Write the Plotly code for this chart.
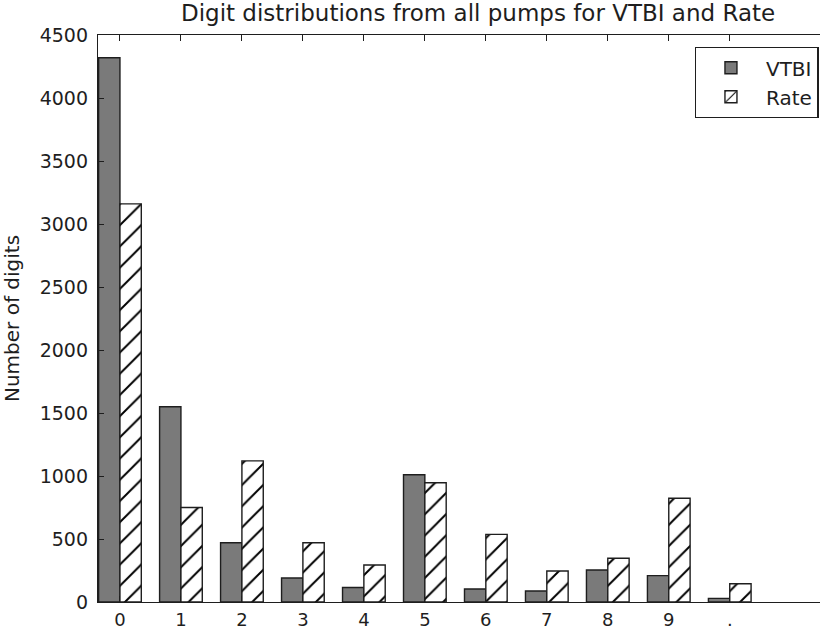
import plotly.graph_objects as go

categories = ["0", "1", "2", "3", "4", "5", "6", "7", "8", "9", "."]
vtbi = [4320, 1550, 470, 190, 115, 1010, 103, 87, 254, 209, 29]
rate = [3160, 750, 1120, 470, 294, 947, 537, 246, 347, 823, 145]
y_ticks = [0, 500, 1000, 1500, 2000, 2500, 3000, 3500, 4000, 4500]

positions = list(range(len(categories)))
font = "DejaVu Sans"
ink = "#1e1e1e"

fig = go.Figure()
fig.add_trace(go.Bar(
    x=positions, y=vtbi, name="VTBI", width=0.35, offset=-0.35,
    marker=dict(color="#7a7a7a", line=dict(color=ink, width=1.4)),
))
fig.add_trace(go.Bar(
    x=positions, y=rate, name="Rate", width=0.35, offset=0,
    marker=dict(color="white", line=dict(color=ink, width=1.4),
                pattern=dict(shape="/", fgcolor="#000000", bgcolor="white",
                             fgopacity=1, size=15, solidity=0.13)),
))

fig.update_layout(
    width=820, height=629,
    barmode="overlay",
    plot_bgcolor="white", paper_bgcolor="white",
    margin=dict(l=98, r=0, t=35, b=27, autoexpand=False),
    title=dict(text="Digit distributions from all pumps for VTBI and Rate",
               x=0.583, xanchor="center", y=0.979, yanchor="middle",
               font=dict(family=font, size=23, color=ink)),
    font=dict(family=font, color=ink),
    showlegend=True,
    legend=dict(x=0.998, xanchor="right", y=0.979, yanchor="top",
                bordercolor=ink, borderwidth=1.4, bgcolor="white",
                font=dict(family=font, size=20, color=ink),
                itemwidth=60),
)
fig.update_xaxes(
    range=[-0.36, 11.48], tickmode="array", tickvals=positions, ticktext=categories,
    ticks="inside", ticklen=6, tickcolor=ink, mirror="ticks", automargin=False,
    showline=True, linecolor=ink, linewidth=1.4, showgrid=False, zeroline=False,
    tickfont=dict(family=font, size=18, color=ink), ticklabelstandoff=1,
)
fig.update_yaxes(
    range=[0, 4500], tickmode="array", tickvals=y_ticks, automargin=False,
    ticks="inside", ticklen=6, tickcolor=ink, mirror=False,
    showline=True, linecolor=ink, linewidth=1.4, showgrid=False, zeroline=False,
    tickfont=dict(family=font, size=19, color=ink), ticklabelstandoff=5,
    title=dict(text="Number of digits", font=dict(family=font, size=20, color=ink)),
)
fig.write_html("out.html", config={"displayModeBar": False},
               post_script="document.body.style.margin='0';")
